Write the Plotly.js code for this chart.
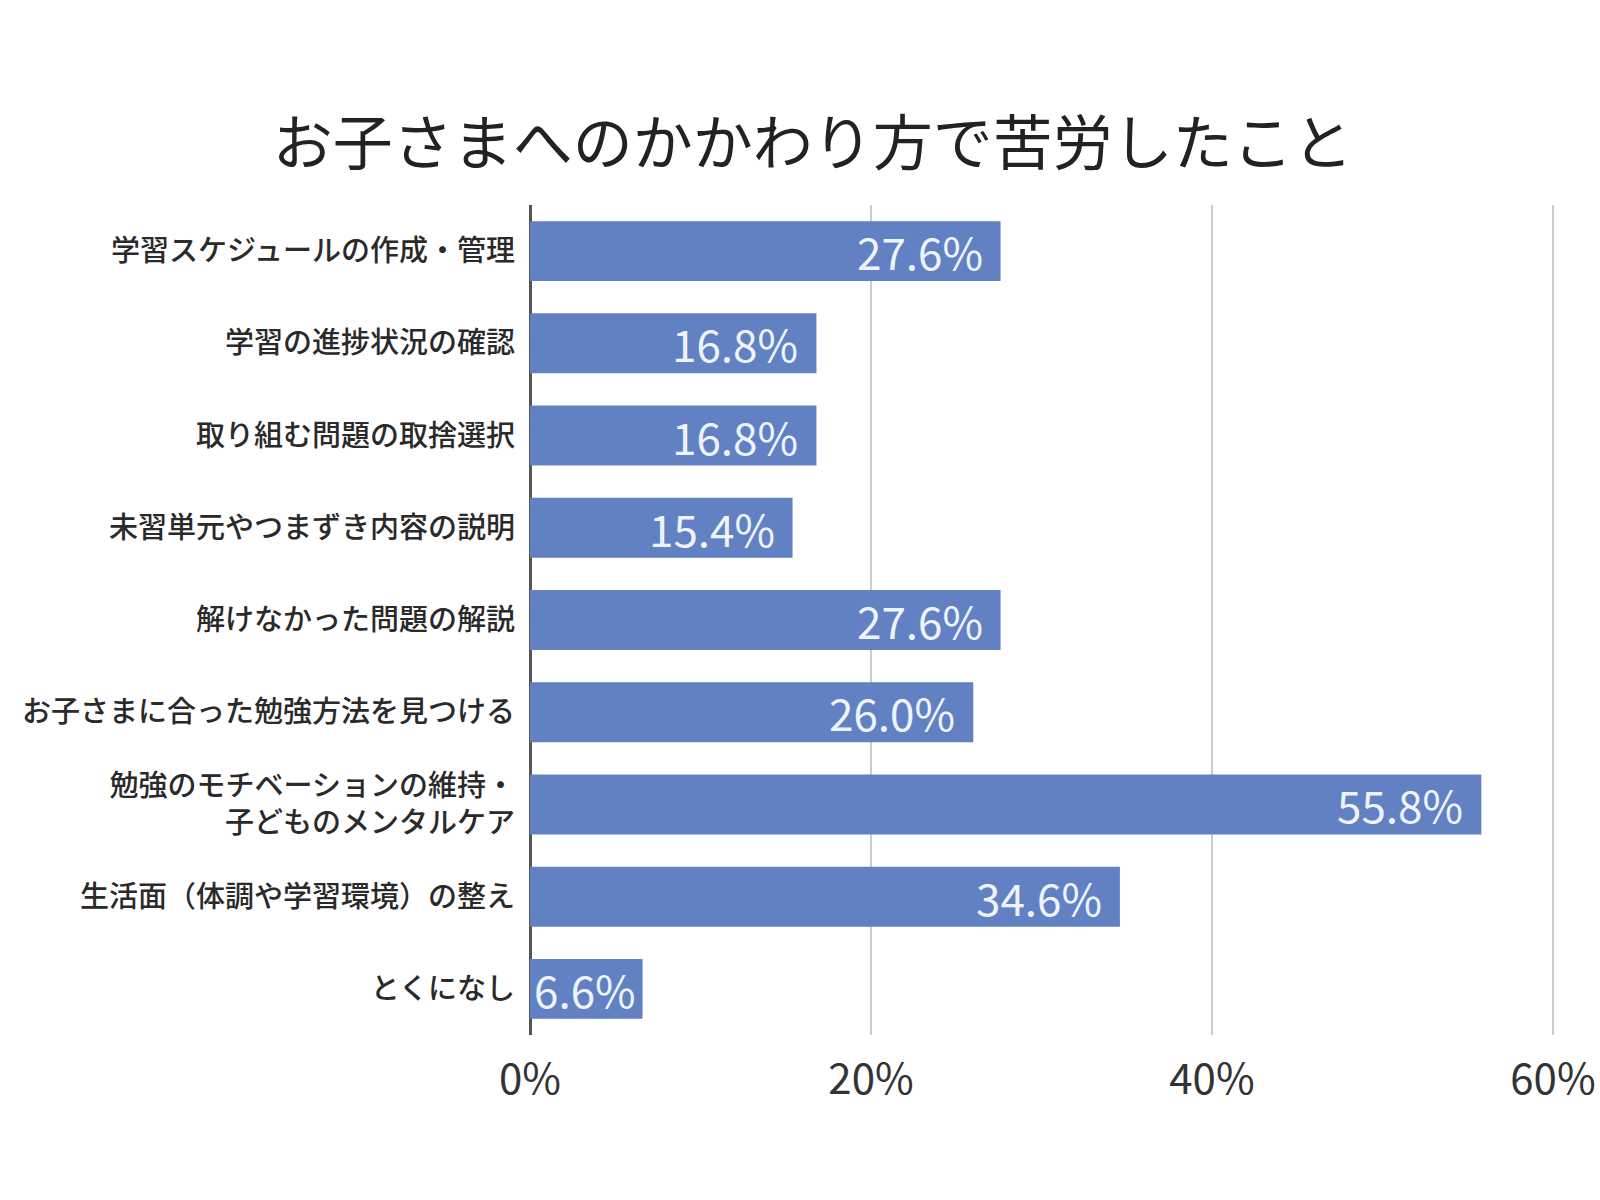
<!DOCTYPE html>
<html>
<head>
<meta charset="utf-8">
<script src="https://cdn.plot.ly/plotly-3.0.1.min.js"></script>
<style>html,body{margin:0;padding:0;background:#fff;}#chart{width:1600px;height:1200px;}</style>
</head>
<body>
<div id="chart"></div>
<script>
const categories = [
  "学習スケジュールの作成・管理",
  "学習の進捗状況の確認",
  "取り組む問題の取捨選択",
  "未習単元やつまずき内容の説明",
  "解けなかった問題の解説",
  "お子さまに合った勉強方法を見つける",
  "勉強のモチベーションの維持・<br>子どものメンタルケア",
  "生活面（体調や学習環境）の整え",
  "とくになし"
];
const values = [27.6, 16.8, 16.8, 15.4, 27.6, 26.0, 55.8, 34.6, 6.6];
const valueLabels = ["27.6%", "16.8%", "16.8%", "15.4%", "27.6%", "26.0%", "55.8%", "34.6%", "6.6%"];
const tickValues = [0, 20, 40, 60];
const tickLabels = ["0%", "20%", "40%", "60%"];

const JP = '"Noto Sans CJK JP", "Noto Sans", sans-serif';

const trace = {
  type: 'bar',
  orientation: 'h',
  x: values,
  y: categories,
  marker: {color: '#6181c2'},
  hoverinfo: 'none'
};

const annotations = values.map((v, i) => ({
  x: v, y: categories[i], xref: 'x', yref: 'y',
  text: valueLabels[i], showarrow: false,
  xanchor: 'right', yanchor: 'middle', xshift: v < 10 ? -5 : -16,
  font: {family: JP, size: 44, color: '#eef3ff'}
}));

const layout = {
  width: 1600, height: 1200,
  paper_bgcolor: '#ffffff', plot_bgcolor: '#ffffff',
  margin: {l: 530, r: 30, t: 205, b: 165},
  title: {text: 'お子さまへのかかわり方で苦労したこと', x: 0.508, xanchor: 'center', y: 0.880, yanchor: 'middle',
          font: {family: JP, size: 60, color: '#222222'}},
  bargap: 0.35,
  showlegend: false,
  xaxis: {
    range: [0, 61], tickvals: tickValues, ticktext: tickLabels,
    showgrid: true, gridcolor: '#cccccc', gridwidth: 2,
    zeroline: true, zerolinecolor: '#555555', zerolinewidth: 3,
    showline: false, ticks: '', ticklabelstandoff: 16,
    tickfont: {family: JP, size: 42, color: '#333333'}, fixedrange: true
  },
  yaxis: {
    autorange: 'reversed', showgrid: false, zeroline: false, showline: false,
    ticks: '', ticklabelstandoff: 14,
    tickfont: {family: JP, size: 29, color: '#2a2a2a', weight: 500}, fixedrange: true
  },
  annotations: annotations
};

Plotly.newPlot('chart', [trace], layout, {displayModeBar: false, staticPlot: true});
</script>
</body>
</html>
